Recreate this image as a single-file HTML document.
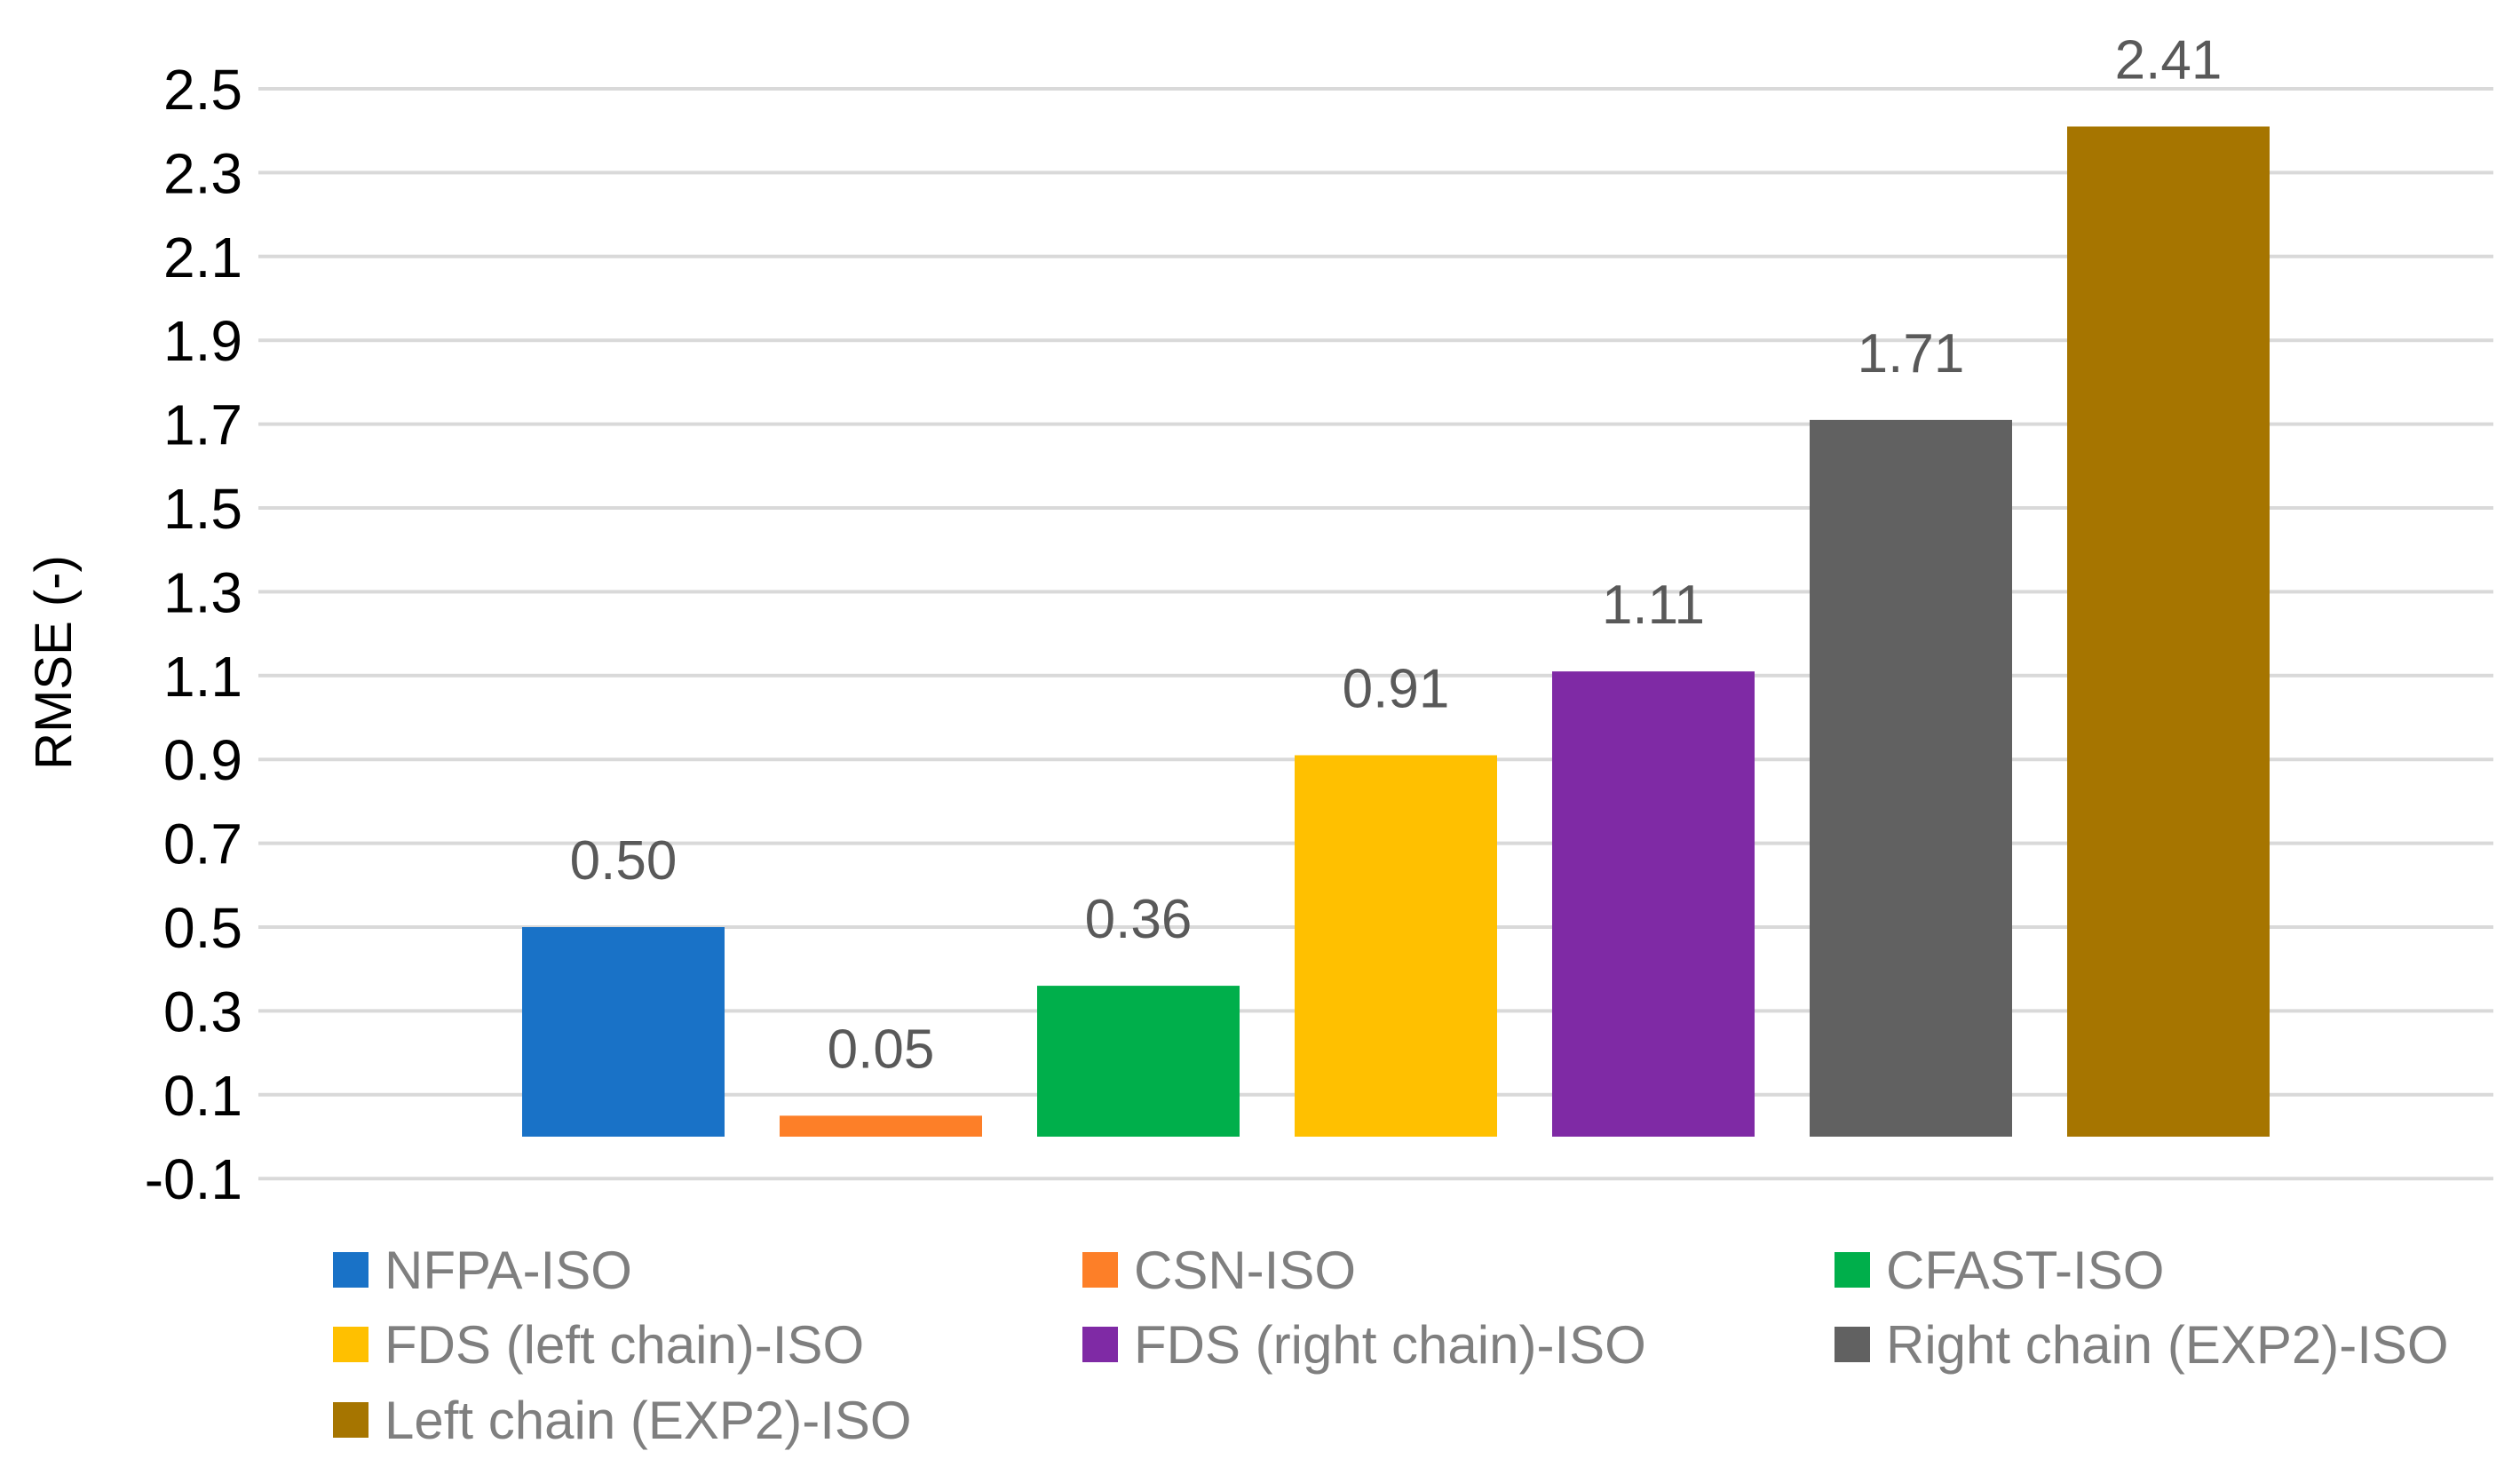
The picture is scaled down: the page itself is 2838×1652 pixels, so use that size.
<!DOCTYPE html>
<html><head><meta charset="utf-8"><style>
body{margin:0;background:#fff}
svg{display:block;font-family:"Liberation Sans",sans-serif}
</style></head><body>
<svg id="chart" width="2838" height="1652" viewBox="0 0 2838 1652" xmlns="http://www.w3.org/2000/svg">
<g id="grid"></g>
<g id="yticks"></g>
<text x="0" y="0" transform="translate(80,746) rotate(-90)" text-anchor="middle" font-size="58" fill="#000">RMSE (-)</text>
<g id="bars"></g>
<g id="legend"></g>
</svg>
<script>
const categories = ["NFPA-ISO","CSN-ISO","CFAST-ISO","FDS (left chain)-ISO","FDS (right chain)-ISO","Right chain (EXP2)-ISO","Left chain (EXP2)-ISO"];
const values = [0.50,0.05,0.36,0.91,1.11,1.71,2.41];
const valueLabels = ["0.50","0.05","0.36","0.91","1.11","1.71","2.41"];
const colors = ["#1972C7","#FD7F28","#00AF4B","#FFC000","#7F2AA5","#616161","#A67500"];
const ticks = [-0.1,0.1,0.3,0.5,0.7,0.9,1.1,1.3,1.5,1.7,1.9,2.1,2.3,2.5];
const tickLabels = ["-0.1","0.1","0.3","0.5","0.7","0.9","1.1","1.3","1.5","1.7","1.9","2.1","2.3","2.5"];

const NS="http://www.w3.org/2000/svg";
const y0=1280, pxPerUnit=472;
function y(v){return y0 - v*pxPerUnit;}
function xc(i){return 702 + i*290;}
const barW=228, plotL=291, plotR=2808;
function mk(tag,attrs,parent){const e=document.createElementNS(NS,tag);for(const k in attrs)e.setAttribute(k,attrs[k]);parent.appendChild(e);return e;}

const grid=document.getElementById('grid'), yt=document.getElementById('yticks');
ticks.forEach((t,i)=>{
  const l=mk('line',{x1:plotL,x2:plotR,y1:y(t),y2:y(t),stroke:'#d9d9d9','stroke-width':4},grid);
  
  
  const tx=mk('text',{x:273,y:y(t)+23,'text-anchor':'end','font-size':64,fill:'#000'},yt);
  tx.textContent=tickLabels[i];
  
  
});

const bars=document.getElementById('bars');
values.forEach((v,i)=>{
  const top=y(Math.max(v,0)), bot=y(Math.min(v,0));
  const r=mk('rect',{x:xc(i)-barW/2,y:top,width:barW,height:bot-top,fill:colors[i]},bars);
  
  
  const t=mk('text',{x:xc(i),y:top-54,'text-anchor':'middle','font-size':62,fill:'#595959'},bars);
  t.textContent=valueLabels[i];
  
  
});

const leg=document.getElementById('legend');
const colX=[375,1219,2066], rowY=[1430,1514,1599];
categories.forEach((c,i)=>{
  const cx=colX[i%3], cy=rowY[Math.floor(i/3)];
  const g=mk('g',{},leg);
  
  
  mk('rect',{x:cx,y:cy-20,width:40,height:40,fill:colors[i]},g);
  const t=mk('text',{x:cx+58,y:cy+21,'font-size':60,fill:'#7f7f7f'},g);
  t.textContent=c;
});
</script>
</body></html>
